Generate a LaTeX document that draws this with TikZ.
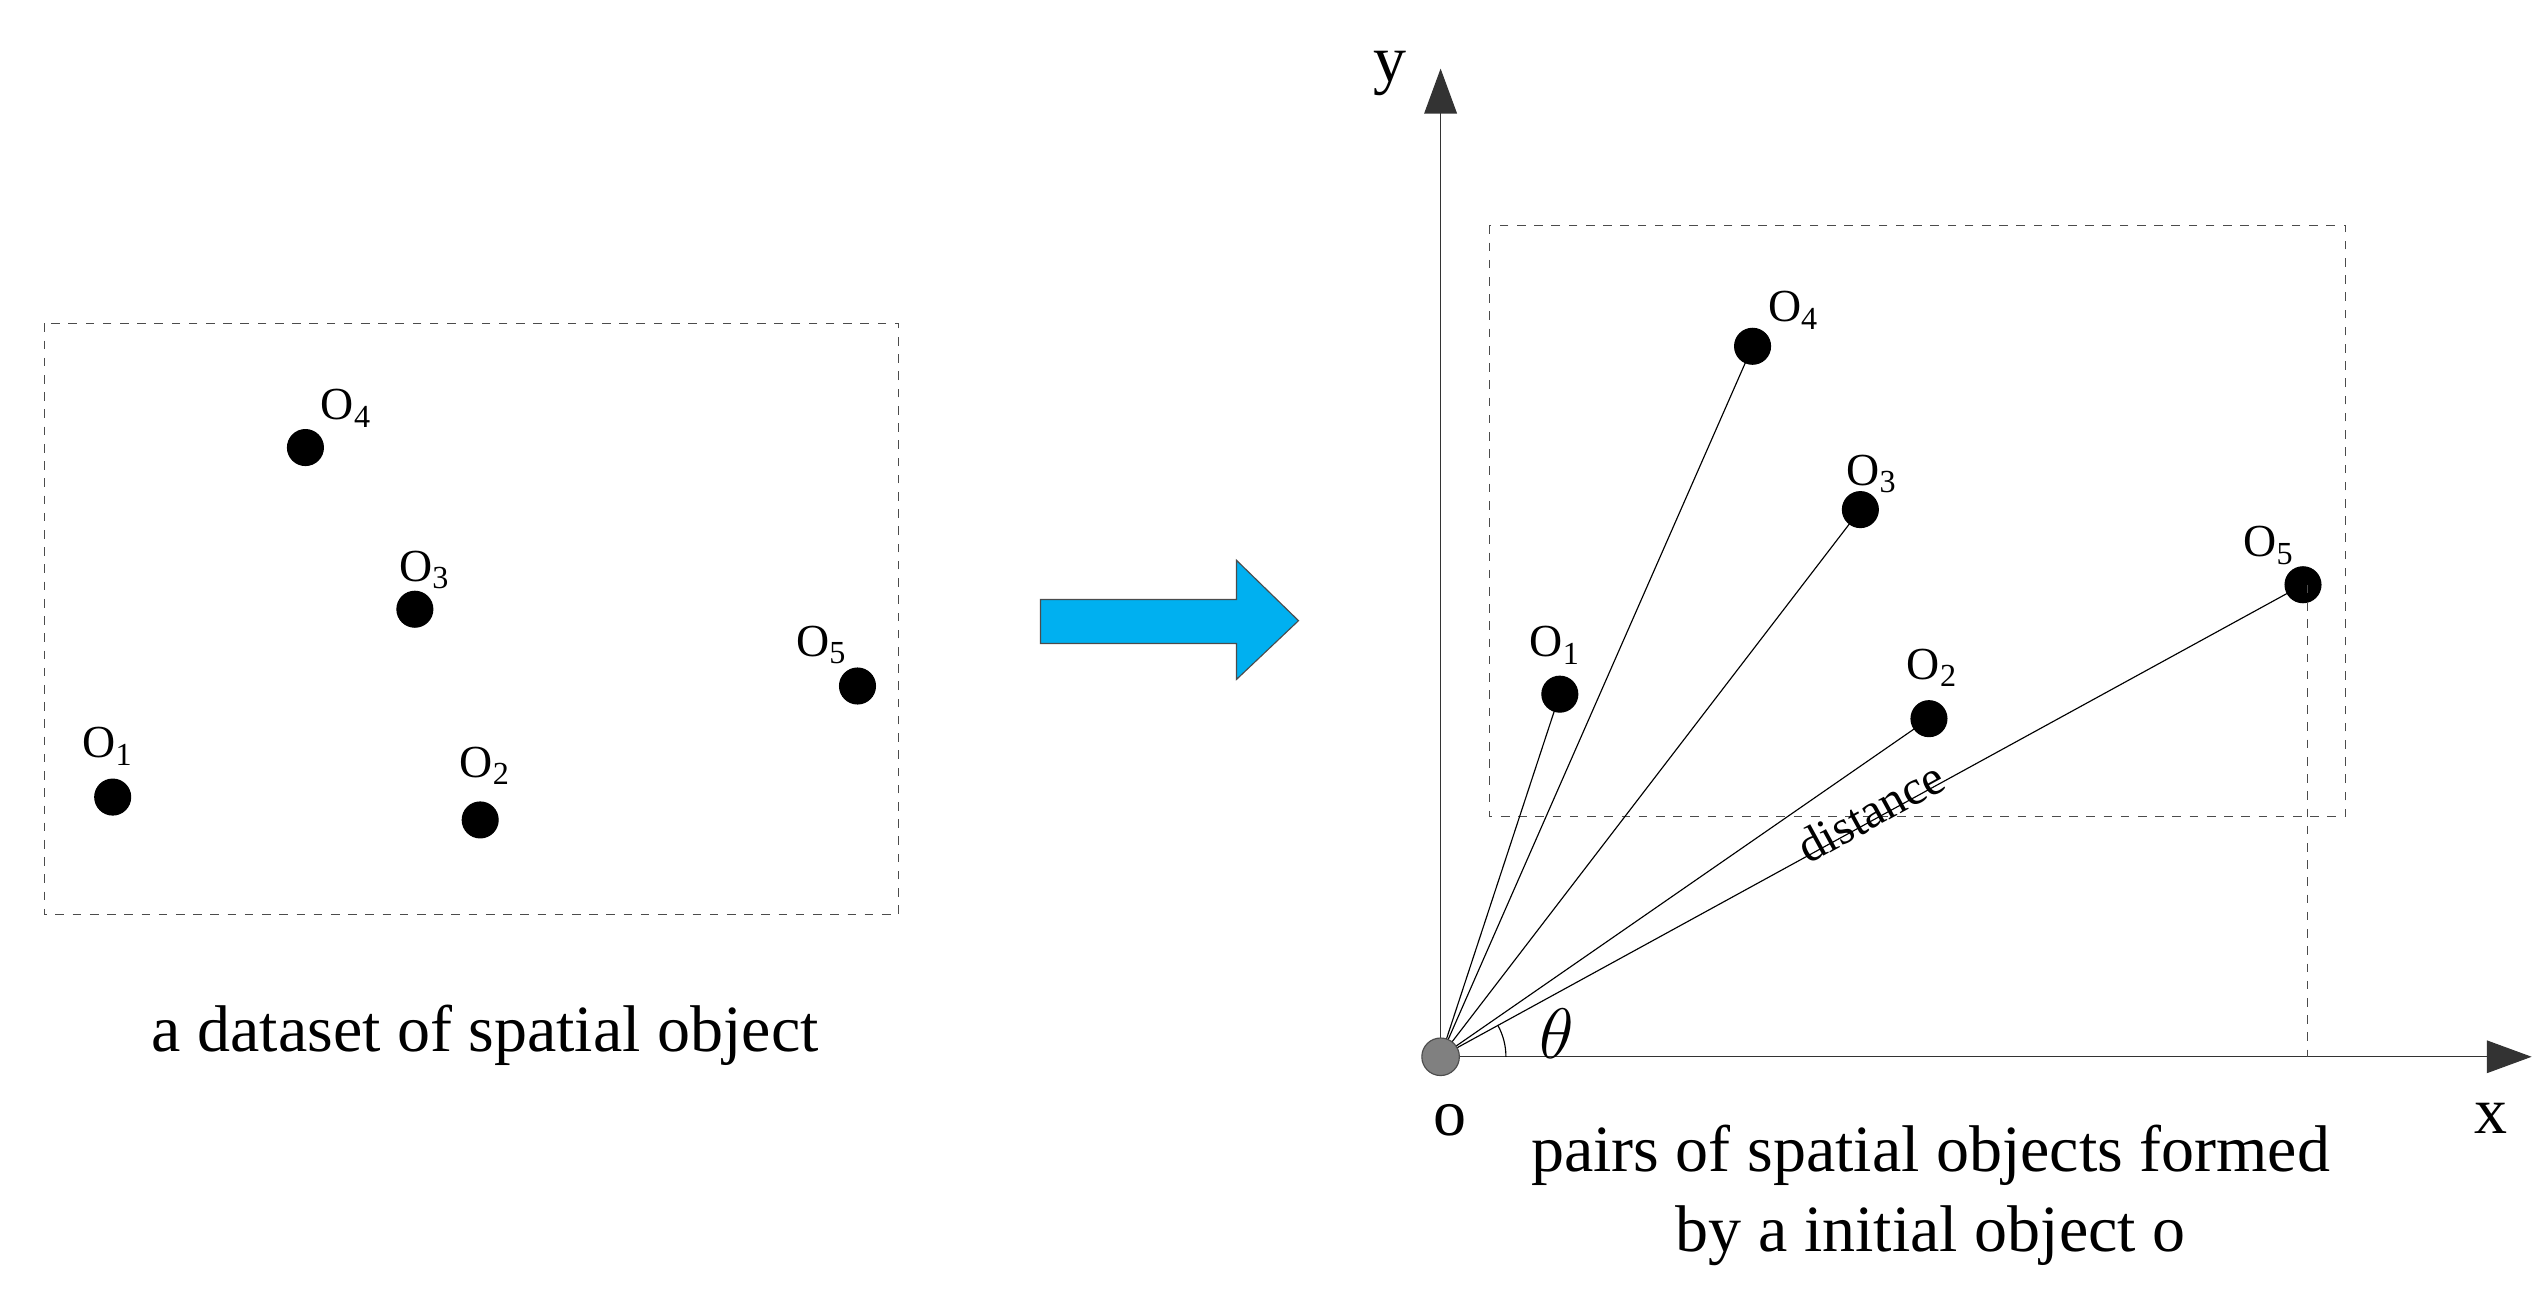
\documentclass[tikz,border=0pt]{standalone}
\usepackage{fontspec}
\setmainfont{Liberation Serif}
\usetikzlibrary{arrows.meta}
\begin{document}
\begin{tikzpicture}[x=0.02cm,y=-0.02cm,
  dot/.style={circle,fill=black,draw=black,inner sep=0pt,minimum size=0.44cm},
  lbl/.style={font=\fontsize{16}{16}\selectfont,inner sep=0pt},
  captxt/.style={font=\fontsize{23}{28}\selectfont,align=center},
  box/.style={draw=black!70,dashed,thin},
  ray/.style={draw=black,thin}]
\useasboundingbox (0,0) rectangle (1560,795);
% left
\draw[box] (27,198) rectangle (550,560);
\node[dot] (l1) at (69,488) {};
\node[dot] (l2) at (294,502) {};
\node[dot] (l3) at (254,373) {};
\node[dot] (l4) at (187,274) {};
\node[dot] (l5) at (525,420) {};
\node[lbl] at (66,457) {O\textsubscript{1}};
\node[lbl] at (297,469) {O\textsubscript{2}};
\node[lbl] at (260,349) {O\textsubscript{3}};
\node[lbl] at (212,250) {O\textsubscript{4}};
\node[lbl] at (503,395) {O\textsubscript{5}};
\node[captxt] (lc) at (297,634) {a dataset of spatial object};
% arrow
\draw[fill={rgb,255:red,0;green,176;blue,240},draw=black!70] (637,367) -- (757,367) -- (757,343) -- (795,380) -- (757,416) -- (757,394) -- (637,394) -- cycle;
% axes
\coordinate (yt) at (882,42);
\coordinate (xt) at (1550,647);
\draw[-{Triangle[length=0.55cm,width=0.4cm]},black!80] (882,647) -- (yt);
\draw[-{Triangle[length=0.55cm,width=0.4cm]},black!80] (882,647) -- (xt);
\node[font=\fontsize{23}{23}\selectfont] at (851,45) {y};
\node[font=\fontsize{23}{23}\selectfont] at (1525,685) {x};
\node[font=\fontsize{23}{23}\selectfont] at (888,686) {o};
\draw[box] (912,138) rectangle (1436,500);
\node[dot] (r1) at (955,425) {};
\node[dot] (r2) at (1181,440) {};
\node[dot] (r3) at (1139,312) {};
\node[dot] (r4) at (1073,212) {};
\node[dot] (r5) at (1410,358) {};
\node[lbl] at (952,395) {O\textsubscript{1}};
\node[lbl] at (1183,409) {O\textsubscript{2}};
\node[lbl] at (1146,290) {O\textsubscript{3}};
\node[lbl] at (1098,190) {O\textsubscript{4}};
\node[lbl] at (1389,334) {O\textsubscript{5}};
\coordinate (oc) at (882,647);
\foreach \n in {r1,r2,r3,r4,r5} \draw[ray] (oc) -- (\n.center);
\draw[box] (1413,358) -- (1413,647);
\node[circle,fill=gray,draw=black!70,inner sep=0pt,minimum size=0.46cm] (o) at (882,647) {};
\draw[thin] (922,647) arc[start angle=0,end angle=-29,radius=40];
\node[font=\fontsize{23}{23}\selectfont] at (953,633) {$\theta$};
\node[font=\fontsize{17}{17}\selectfont,rotate=28.7,inner sep=1pt] at (1145,497) {distance};
\node[captxt] (rc) at (1182,732) {pairs of spatial objects formed\\by a initial object o};
\end{tikzpicture}
\end{document}
